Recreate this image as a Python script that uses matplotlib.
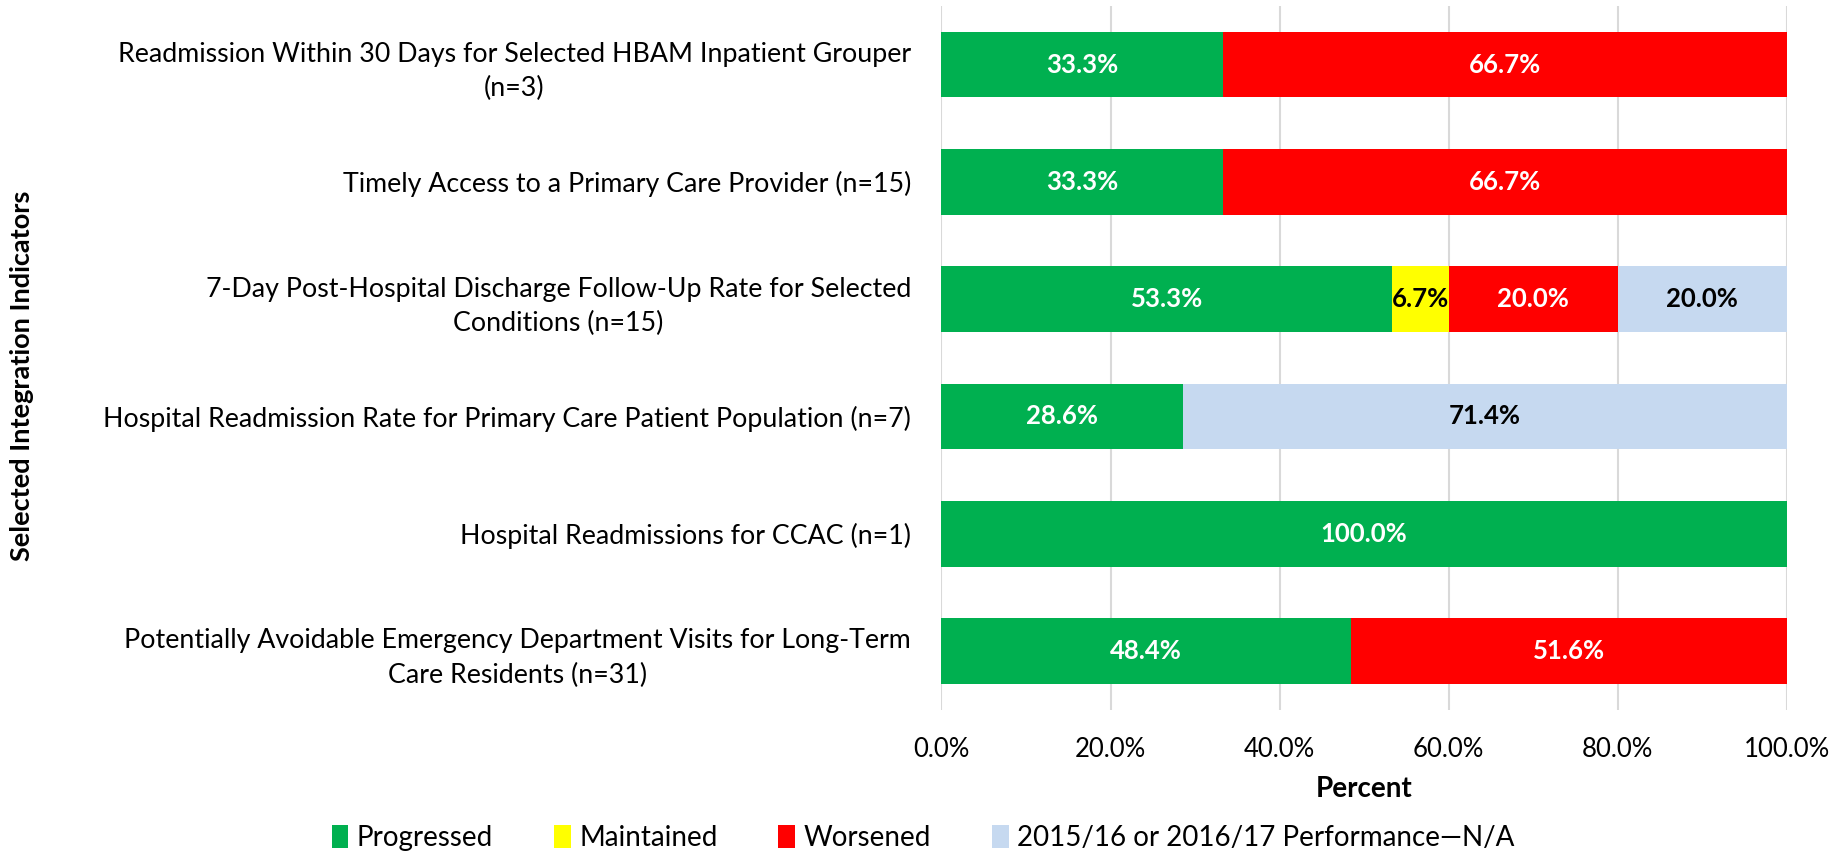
import numpy as np
import matplotlib.pyplot as plt

plt.rcParams['font.family'] = ['Lato', 'DejaVu Sans']

categories = [
    'Readmission Within 30 Days for Selected HBAM Inpatient Grouper\n(n=3)',
    'Timely Access to a Primary Care Provider (n=15)',
    '7-Day Post-Hospital Discharge Follow-Up Rate for Selected\nConditions (n=15)',
    'Hospital Readmission Rate for Primary Care Patient Population (n=7)',
    'Hospital Readmissions for CCAC (n=1)',
    'Potentially Avoidable Emergency Department Visits for Long-Term\nCare Residents (n=31)',
]
progressed = [33.3, 33.3, 53.3, 28.6, 100.0, 48.4]
maintained = [0.0, 0.0, 6.7, 0.0, 0.0, 0.0]
worsened = [66.7, 66.7, 20.0, 0.0, 0.0, 51.6]
not_avail = [0.0, 0.0, 20.0, 71.4, 0.0, 0.0]
series_names = ['Progressed', 'Maintained', 'Worsened',
                '2015/16 or 2016/17 Performance\u2014N/A']
xticks = [0, 20, 40, 60, 80, 100]

colors = ['#00B050', '#FFFF00', '#FF0000', '#C6D9F0']
text_colors = ['white', 'black', 'white', 'black']

fig = plt.figure(figsize=(18.46, 8.55), dpi=100)
ax = fig.add_axes([0.510, 0.170, 0.458, 0.823])

y = np.arange(len(categories))
left = np.zeros(len(categories))
for vals, name, c, tc in zip([progressed, maintained, worsened, not_avail],
                             series_names, colors, text_colors):
    vals = np.array(vals)
    bars = ax.barh(y, vals, left=left, height=0.56, color=c, label=name, zorder=3)
    for b, v in zip(bars, vals):
        if v > 0:
            ax.text(b.get_x() + b.get_width() / 2, b.get_y() + b.get_height() / 2,
                    f'{v:.1f}%', ha='center', va='center', color=tc,
                    fontsize=18.5, fontweight='bold', zorder=4)
    left += vals

ax.set_xlim(0, 100)
ax.set_ylim(len(categories) - 0.5, -0.5)
ax.set_yticks(y)
ax.set_yticklabels(categories, fontsize=19.3, multialignment='center',
                   linespacing=1.45)
ax.set_xticks(xticks)
ax.set_xticklabels([f'{t:.1f}%' for t in xticks], fontsize=18.5)
ax.tick_params(axis='both', length=0)
ax.tick_params(axis='y', pad=22)
ax.tick_params(axis='x', pad=20)
ax.grid(axis='x', color='#D9D9D9', linewidth=1.5, zorder=0)
for s in ax.spines.values():
    s.set_visible(False)

ax.set_xlabel('Percent', fontsize=20, fontweight='bold', labelpad=10)
fig.text(0.012, 0.56, 'Selected Integration Indicators', rotation=90,
         ha='center', va='center', fontsize=19.5, fontweight='bold')

fig.legend(loc='center', bbox_to_anchor=(0.5, 0.02), ncol=4, frameon=False,
           fontsize=20, handlelength=0.6, handleheight=0.9, handletextpad=0.3,
           columnspacing=2.2)

fig.savefig('out.png', dpi=100)
